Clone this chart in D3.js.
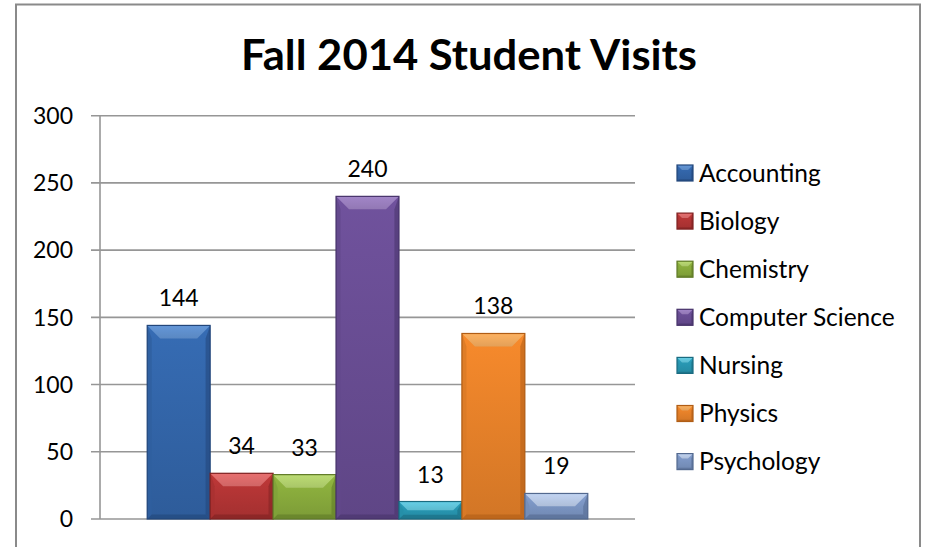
<!DOCTYPE html>
<html>
<head>
<meta charset="utf-8">
<script src="https://cdn.jsdelivr.net/npm/d3@7"></script>
<style>
  html, body { margin: 0; padding: 0; background: #fff; }
  svg { display: block; }
  text { font-family: Lato, "Open Sans", sans-serif; fill: #000; }
</style>
</head>
<body>
<svg id="chart" width="925" height="547"></svg>
<script>
const title = "Fall 2014 Student Visits";
const categories = ["Accounting", "Biology", "Chemistry", "Computer Science", "Nursing", "Physics", "Psychology"];
const values = [144, 34, 33, 240, 13, 138, 19];
const yTicks = [0, 50, 100, 150, 200, 250, 300];
const bodyColors  = ["#3366ab", "#b53535", "#8aad3d", "#6a4e95", "#2898b3", "#ea832a", "#7d97c5"];
const lightColors = ["#6497d8", "#e87070", "#bcdc74", "#a286c8", "#66cfe6", "#fdb262", "#c2d4f2"];
const darkColors  = ["#22467a", "#7f2222", "#5f7a27", "#47336a", "#1a6b80", "#b05d15", "#53698f"];

const svg = d3.select("#chart");
const defs = svg.append("defs");

// outer border
svg.append("rect").attr("x", 16).attr("y", 4.5).attr("width", 904).attr("height", 560)
  .attr("fill", "#fff").attr("stroke", "#8a8a8a").attr("stroke-width", 2);

const plot = { left: 100, right: 635, top: 115.7, bottom: 519 };
const x = d3.scaleBand().domain(categories).range([plot.left, plot.right])
  .paddingInner(0).paddingOuter(0.75);
const y = d3.scaleLinear().domain([0, 300]).range([plot.bottom, plot.top]);

// gridlines
svg.append("g").selectAll("line").data(yTicks).join("line")
  .attr("x1", plot.left - 9).attr("x2", plot.right)
  .attr("y1", d => y(d)).attr("y2", d => y(d))
  .attr("stroke", "#969696").attr("stroke-width", 1.6);

// y axis line
svg.append("line").attr("x1", plot.left).attr("x2", plot.left)
  .attr("y1", y(300)).attr("y2", y(0))
  .attr("stroke", "#969696").attr("stroke-width", 1.6);

// tick labels
svg.append("g").selectAll("text").data(yTicks).join("text")
  .attr("x", 73).attr("y", d => y(d)).attr("dy", "0.36em")
  .attr("text-anchor", "end").style("font-size", "23px").text(d => d);

// gradients
categories.forEach((c, i) => {
  const g = defs.append("linearGradient").attr("id", "body" + i)
    .attr("x1", 0).attr("y1", 0).attr("x2", 0).attr("y2", 1);
  g.append("stop").attr("offset", 0).attr("stop-color", d3.color(bodyColors[i]).brighter(0.15));
  g.append("stop").attr("offset", 1).attr("stop-color", d3.color(bodyColors[i]).darker(0.3));
  const t = defs.append("linearGradient").attr("id", "top" + i)
    .attr("x1", 0).attr("y1", 0).attr("x2", 0).attr("y2", 1);
  t.append("stop").attr("offset", 0).attr("stop-color", lightColors[i]);
  t.append("stop").attr("offset", 1).attr("stop-color", d3.color(lightColors[i]).darker(0.3));
});

function drawBevelBar(g, x0, y0, w, h, i, bev) {
  const bt = Math.min(bev, h / 2);
  const bs = Math.min(bev * 0.35, w / 4);
  const bb = Math.min(bev * 0.35, h / 4);
  g.append("rect").attr("x", x0).attr("y", y0).attr("width", w).attr("height", h)
    .attr("fill", `url(#body${i})`);
  // left side
  g.append("polygon").attr("points", [[x0, y0], [x0 + bs, y0 + bt], [x0 + bs, y0 + h - bb], [x0, y0 + h]].join(" "))
    .attr("fill", d3.color(bodyColors[i]).darker(0.2)).attr("opacity", 0.8);
  // right side
  g.append("polygon").attr("points", [[x0 + w, y0], [x0 + w - bs, y0 + bt], [x0 + w - bs, y0 + h - bb], [x0 + w, y0 + h]].join(" "))
    .attr("fill", darkColors[i]).attr("opacity", 0.55);
  // bottom
  g.append("polygon").attr("points", [[x0, y0 + h], [x0 + bs, y0 + h - bb], [x0 + w - bs, y0 + h - bb], [x0 + w, y0 + h]].join(" "))
    .attr("fill", darkColors[i]).attr("opacity", 0.6);
  // top bevel
  g.append("polygon").attr("points", [[x0, y0], [x0 + w, y0], [x0 + w - bt, y0 + bt], [x0 + bt, y0 + bt]].join(" "))
    .attr("fill", `url(#top${i})`);
  // outline
  g.append("rect").attr("x", x0).attr("y", y0).attr("width", w).attr("height", h)
    .attr("fill", "none").attr("stroke", darkColors[i]).attr("stroke-width", 1.2);
}

// bars
const bars = svg.append("g");
categories.forEach((c, i) => {
  const g = bars.append("g");
  const x0 = x(c), w = x.bandwidth();
  const y0 = y(values[i]), h = y(0) - y(values[i]);
  drawBevelBar(g, x0, y0, w, h, i, 13);
});

// value labels
svg.append("g").selectAll("text").data(values).join("text")
  .attr("x", (d, i) => x(categories[i]) + x.bandwidth() / 2)
  .attr("y", d => y(d) - 19)
  .attr("text-anchor", "middle").style("font-size", "23px").text(d => d);

// legend
const legend = svg.append("g");
categories.forEach((c, i) => {
  const cy = 173 + i * 48.1;
  const g = legend.append("g");
  drawBevelBar(g, 677, cy - 8, 16, 16, i, 5);
  g.append("text").attr("x", 699).attr("y", cy).attr("dy", "0.36em")
    .style("font-size", "24.5px").text(c);
});

// title
svg.append("text").attr("x", 469).attr("y", 70).attr("text-anchor", "middle")
  .style("font-size", "42px").style("font-weight", "bold")
  .attr("textLength", 456).attr("lengthAdjust", "spacingAndGlyphs")
  .text(title);
</script>
</body>
</html>
